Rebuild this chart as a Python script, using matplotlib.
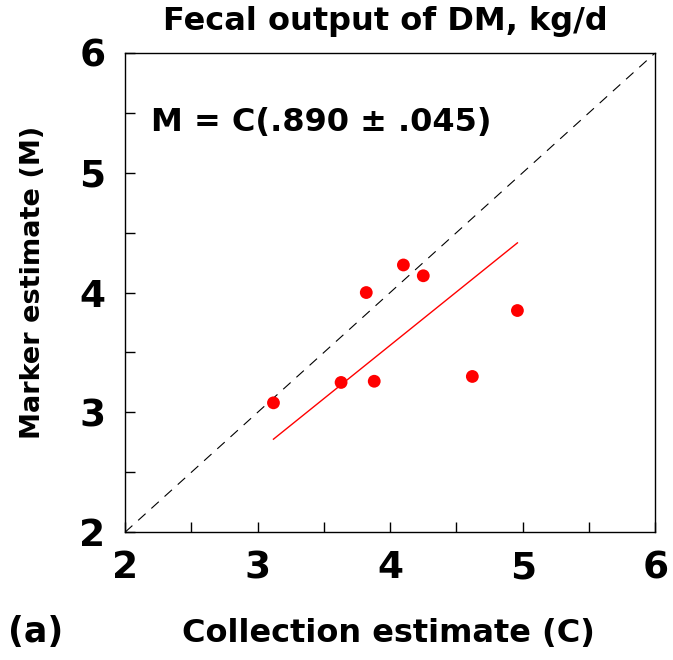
import numpy as np
import matplotlib.pyplot as plt

# data
collection = [3.12, 3.63, 3.88, 3.82, 4.10, 4.25, 4.62, 4.96]
marker = [3.08, 3.25, 3.26, 4.00, 4.23, 4.14, 3.30, 3.85]
slope = 0.890
slope_se = 0.045
tick_pos = [2, 2.5, 3, 3.5, 4, 4.5, 5, 5.5, 6]
tick_lab = ['2', '', '3', '', '4', '', '5', '', '6']

plt.rcParams['font.family'] = ['DejaVu Sans']
plt.rcParams['font.weight'] = 'bold'

fig = plt.figure(figsize=(6.73, 6.6), dpi=100)
ax = fig.add_axes([0.1857, 0.1935, 0.788, 0.7265])

# 1:1 line
ax.plot([2, 6], [2, 6], color='black', lw=0.8, dashes=(9, 7))

# fitted line through origin
xs = np.array([min(collection), max(collection)])
ax.plot(xs, slope * xs, color='red', lw=1.0)

ax.scatter(collection, marker, s=85, color='red', zorder=3, edgecolors='none')

ax.set_xlim(2, 6)
ax.set_ylim(2, 6)
ax.set_xticks(tick_pos, tick_lab, fontsize=27, fontweight='bold')
ax.set_yticks(tick_pos, tick_lab, fontsize=27, fontweight='bold')
ax.tick_params(axis='x', direction='in', length=7, width=1.0, pad=13, color='black')
ax.tick_params(axis='y', direction='in', length=7, width=1.0, pad=14, color='black')
for s in ax.spines.values():
    s.set_linewidth(1.0)

fig.text(0.5765, 0.0394, 'Collection estimate (C)', fontsize=23, fontweight='bold',
         ha='center', va='center')
fig.text(0.049, 0.5727, 'Marker estimate (M)', fontsize=19.5, fontweight='bold',
         ha='center', va='center', rotation=90)
fig.text(0.572, 0.9667, 'Fecal output of DM, kg/d', fontsize=23, fontweight='bold',
         ha='center', va='center')

ax.text(2.2, 5.42, 'M = C(.890 ± .045)', fontsize=23, fontweight='bold',
        va='center', ha='left')
fig.text(0.012, 0.0424, '(a)', fontsize=25, fontweight='bold', ha='left', va='center')

plt.savefig('out.png', dpi=100)
